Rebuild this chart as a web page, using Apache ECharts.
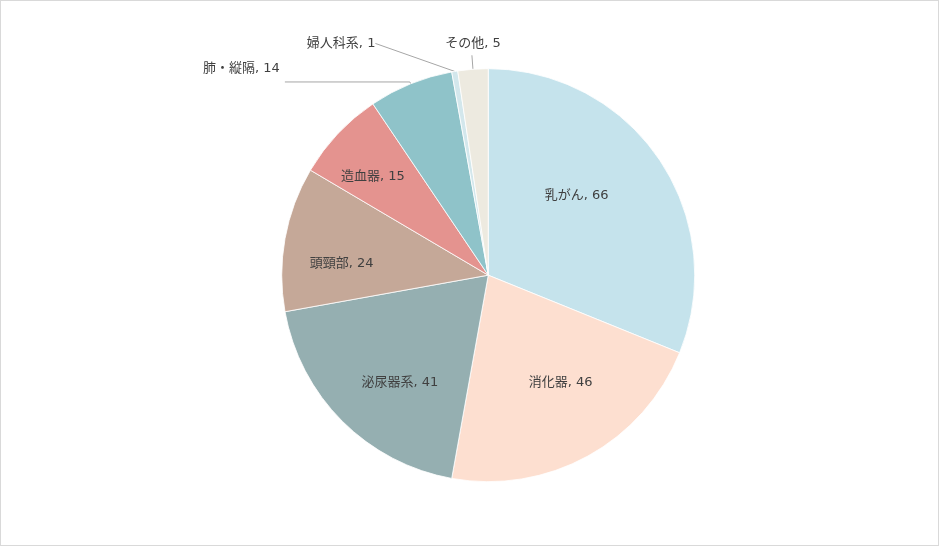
<!DOCTYPE html>
<html><head><meta charset="utf-8">
<script src="https://cdn.jsdelivr.net/npm/echarts@6/dist/echarts.min.js"></script>
<style>
html,body{margin:0;padding:0;background:#fff;}
#c{width:937px;height:544px;border:1px solid #D9D9D9;}
</style></head>
<body><div id="c"></div>
<script>
const categories = ['乳がん','消化器','泌尿器系','頭頸部','造血器','肺・縦隔','婦人科系','その他'];
const values = [66,46,41,24,15,14,1,5];
const colors = ['#C5E3EC','#FDDFD0','#95AFB1','#C5A898','#E4938F','#8FC3C9','#D3E7EC','#EDEAE0'];
const outsideItems = ['肺・縦隔','婦人科系','その他'];
const innerNear = ['乳がん','消化器'];
const innerFar = ['泌尿器系','頭頸部','造血器'];

const font = '"DejaVu Sans", "Noto Sans CJK JP", sans-serif';
const fontSize = 13;
const center = ['52%','50.4%'];

// small label nudges (Excel best-fit placement)
const nudge = {
  '乳がん':[-17,-9], '消化器':[11,-4], '泌尿器系':[17,2], '頭頸部':[0,15], '造血器':[-7,4]
};

const mainData = categories.map((c,i)=>{
  const isOut = outsideItems.indexOf(c) >= 0;
  const d = {name:c, value:values[i], itemStyle:{color:colors[i]}};
  if (isOut) {
    d.label = {show:true, position:'outside'};
    d.labelLine = {show:true};
  } else {
    d.label = {show:false};
    d.labelLine = {show:false};
  }
  return d;
});
mainData[5].labelLine = {show:true, length:2, length2:125};
mainData[6].labelLine = {show:true, length:2, length2:0};
mainData[7].labelLine = {show:true, length:14, length2:0};

function ghost(list){
  return categories.map((c,i)=>({name:c, value:values[i], label:{show: list.indexOf(c) >= 0}}));
}
const ghostBase = {
  type:'pie', center:center, startAngle:90, clockwise:true,
  silent:true, avoidLabelOverlap:false,
  itemStyle:{color:'rgba(0,0,0,0)'},
  label:{position:'inside', formatter:'{b}, {c}', fontFamily:font, fontSize:fontSize, color:'#404040'},
  labelLine:{show:false},
  labelLayout:function(p){
    const n = nudge[categories[p.dataIndex]];
    return n ? {dx:n[0], dy:n[1]} : {};
  },
  emphasis:{disabled:true}, z:3
};

const chart = echarts.init(document.getElementById('c'));
chart.setOption({
  animation:false,
  series:[
    {
      type:'pie', radius:[0,206.5], center:center, startAngle:90, clockwise:true,
      avoidLabelOverlap:false,
      itemStyle:{borderColor:'rgba(255,255,255,0.8)', borderWidth:1},
      label:{formatter:'{b}, {c}', fontFamily:font, fontSize:fontSize, color:'#404040'},
      labelLine:{lineStyle:{color:'#A6A6A6', width:1}},
      labelLayout:function(p){
        const r = p.labelRect;
        if (p.dataIndex === 7) return {align:'center', verticalAlign:'bottom', dy:-5, dx:6};
        if (p.dataIndex === 5) return {dy:-13};
        if (p.dataIndex === 6) return {x: r.x + r.width - 74, y: r.y + r.height/2 - 26, align:'right', verticalAlign:'middle'};
        return {};
      },
      emphasis:{disabled:true},
      data:mainData, z:2
    },
    Object.assign({}, ghostBase, {radius:[0,248], data:ghost(innerNear)}),
    Object.assign({}, ghostBase, {radius:[0,292], data:ghost(innerFar)})
  ]
});
</script></body></html>
